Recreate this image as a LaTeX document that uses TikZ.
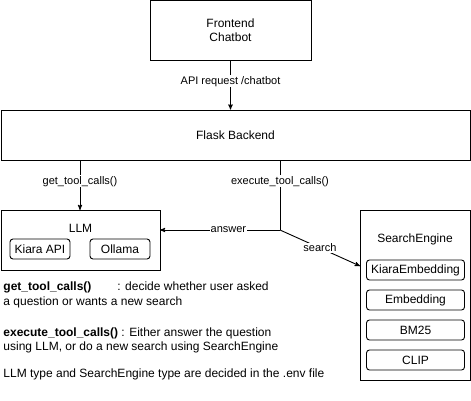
\documentclass[tikz,border=0pt]{standalone}
\usepackage{fontspec}
\setmainfont{Liberation Sans}
\usetikzlibrary{arrows}
\begin{document}
\begin{tikzpicture}[x=1pt,y=-1pt,line width=0.9pt,>=stealth',
  box/.style={draw,fill=white,align=center,inner sep=0pt,font=\fontsize{12}{14}\selectfont},
  subbox/.style={draw,rounded corners=3pt,inner sep=0pt,minimum height=20pt,font=\fontsize{12}{14}\selectfont},
  lbl/.style={fill=white,inner sep=1pt,font=\fontsize{11}{12}\selectfont},
  note/.style={anchor=base west,inner sep=0pt,font=\fontsize{12}{14}\selectfont}]
\useasboundingbox (0,0) rectangle (471,401);

\node[box,minimum width=161pt,minimum height=60pt] (front) at (230.5,30.5) {Frontend\\Chatbot};
\node[box,minimum width=469pt,minimum height=50pt] (flask) at (235.5,135) {Flask Backend};

% LLM and its parts
\draw (1,210) rectangle (160,270);
\node[font=\fontsize{12}{14}\selectfont] (llm) at (80.5,228) {LLM};
\node[subbox,minimum width=60pt] (kiara) at (40,249) {Kiara API};
\node[subbox,minimum width=60pt] (ollama) at (120,249) {Ollama};
\coordinate (llmtop) at (80,210);
\coordinate (llmright) at (160,230);

% search engines
\draw (360,210) rectangle (470,380);
\node[font=\fontsize{12}{14}\selectfont] (se) at (415,239) {SearchEngine};
\foreach \name/\txt [count=\i from 0] in {kemb/KiaraEmbedding,emb/Embedding,bm/BM25,clip/CLIP}
  \node[subbox,minimum width=98pt] (\name) at (415.5,270+30*\i) {\txt};
\coordinate (seleft) at (360,266);

\coordinate (split) at (280,230);

\draw[->] (front.south) -- node[lbl,pos=0.42] {API request /chatbot} (front.south |- flask.north);
\draw[->] (flask.south -| llmtop) -- node[lbl,pos=0.42] {get\_tool\_calls()} (llmtop);
\draw (flask.south -| split) -- node[lbl,pos=0.3] {execute\_tool\_calls()} (split);
\draw[->] (split) -- node[lbl,pos=0.43] {answer} (llmright);
\draw[->] (split) -- node[lbl] {search} (seleft);

% notes
\node[note,font=\fontsize{12}{14}\selectfont\bfseries] (n1) at (3,290) {get\_tool\_calls()};
\node[note] (n1b) at (117,290) {: decide whether user asked};
\node[note] (n2) at (3,305) {a question or wants a new search};
\node[note] (n3) at (3,336) {\textbf{execute\_tool\_calls()} : Either answer the question};
\node[note] (n4) at (3,350) {using LLM, or do a new search using SearchEngine};
\node[note] (n5) at (3,377) {LLM type and SearchEngine type are decided in the .env file};
\end{tikzpicture}
\end{document}
